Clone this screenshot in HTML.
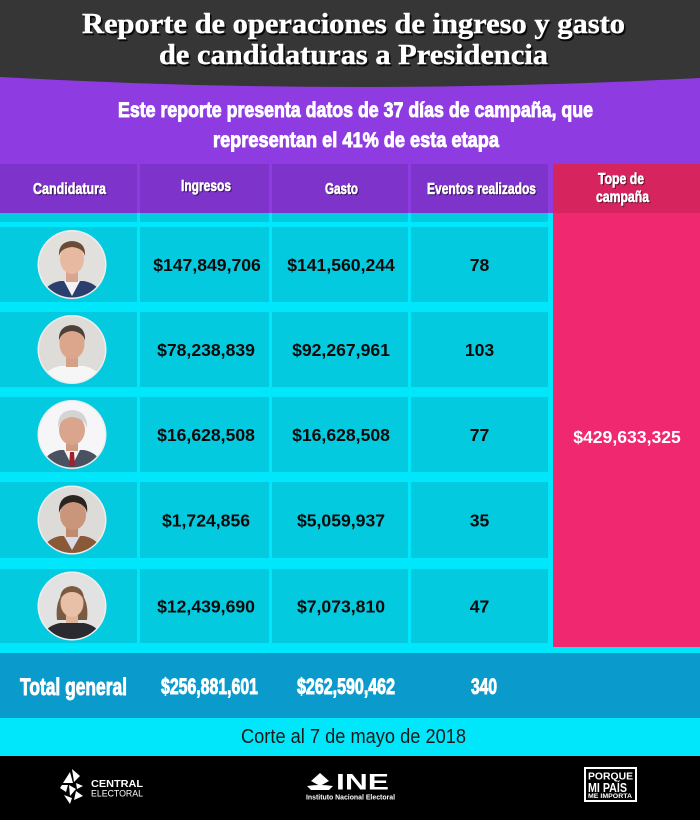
<!DOCTYPE html>
<html>
<head>
<meta charset="utf-8">
<style>
html,body{margin:0;padding:0;background:#000;}
svg{display:block;}
.t{font-family:"Liberation Serif",serif;font-weight:bold;}
.s{font-family:"Liberation Sans",sans-serif;font-weight:bold;}
.r{font-family:"Liberation Sans",sans-serif;font-weight:normal;}
</style>
</head>
<body>
<svg width="700" height="820" viewBox="0 0 700 820" xmlns="http://www.w3.org/2000/svg">
  <defs>
    <clipPath id="c1"><circle cx="72" cy="264.5" r="33"/></clipPath>
    <clipPath id="c2"><circle cx="72" cy="349.5" r="33"/></clipPath>
    <clipPath id="c3"><circle cx="72" cy="434.5" r="33"/></clipPath>
    <clipPath id="c4"><circle cx="72" cy="520" r="33"/></clipPath>
    <clipPath id="c5"><circle cx="72" cy="606" r="33"/></clipPath>
  </defs>

  <!-- purple band -->
  <rect x="0" y="0" width="700" height="213" fill="#8f3be2"/>
  <!-- dark title band -->
  <path d="M0 0 H700 V78 Q350 96.5 0 77 Z" fill="#363636"/>

  <!-- title -->
  <g class="t" font-size="29" text-anchor="start">
    <text x="83.5" y="35" textLength="543" lengthAdjust="spacingAndGlyphs" fill="#0a0a0a" stroke="#0a0a0a" stroke-width="0.6">Reporte de operaciones de ingreso y gasto</text>
    <text x="82" y="33" textLength="543" lengthAdjust="spacingAndGlyphs" fill="#fff" stroke="#fff" stroke-width="0.4">Reporte de operaciones de ingreso y gasto</text>
    <text x="160.5" y="66" textLength="389" lengthAdjust="spacingAndGlyphs" fill="#0a0a0a" stroke="#0a0a0a" stroke-width="0.6">de candidaturas a Presidencia</text>
    <text x="159" y="64" textLength="389" lengthAdjust="spacingAndGlyphs" fill="#fff" stroke="#fff" stroke-width="0.4">de candidaturas a Presidencia</text>
  </g>

  <!-- subtitle -->
  <g class="s" font-size="21.5" fill="#fff" stroke="#fff" stroke-width="0.9">
    <text x="118" y="117" textLength="475" lengthAdjust="spacingAndGlyphs">Este reporte presenta datos de 37 días de campaña, que</text>
    <text x="213" y="147" textLength="286" lengthAdjust="spacingAndGlyphs">representan el 41% de esta etapa</text>
  </g>

  <!-- header cells -->
  <rect x="0" y="164" width="137" height="49" fill="#7e34cb"/>
  <rect x="140" y="164" width="129" height="49" fill="#7e34cb"/>
  <rect x="272" y="164" width="136" height="49" fill="#7e34cb"/>
  <rect x="411" y="164" width="137" height="49" fill="#7e34cb"/>

  <g class="s" font-size="16">
    <g fill="#3a1060" stroke="#3a1060" stroke-width="0.6">
      <text x="34" y="195" textLength="73" lengthAdjust="spacingAndGlyphs">Candidatura</text>
      <text x="182" y="192" textLength="50" lengthAdjust="spacingAndGlyphs">Ingresos</text>
      <text x="326" y="195" textLength="33" lengthAdjust="spacingAndGlyphs">Gasto</text>
      <text x="428" y="195" textLength="109" lengthAdjust="spacingAndGlyphs">Eventos realizados</text>
    </g>
    <g fill="#fff" stroke="#fff" stroke-width="0.6">
      <text x="33" y="194" textLength="73" lengthAdjust="spacingAndGlyphs">Candidatura</text>
      <text x="181" y="191" textLength="50" lengthAdjust="spacingAndGlyphs">Ingresos</text>
      <text x="325" y="194" textLength="33" lengthAdjust="spacingAndGlyphs">Gasto</text>
      <text x="427" y="194" textLength="109" lengthAdjust="spacingAndGlyphs">Eventos realizados</text>
    </g>
  </g>

  <!-- cyan area -->
  <rect x="0" y="213" width="700" height="440" fill="#00e6fa"/>
  <!-- thin row under header -->
  <g fill="#04cadf">
    <rect x="0" y="213" width="137" height="9"/>
    <rect x="140" y="213" width="129" height="9"/>
    <rect x="272" y="213" width="136" height="9"/>
    <rect x="411" y="213" width="137" height="9"/>
  </g>
  <!-- rows -->
  <g fill="#04cadf">
    <rect x="0" y="227" width="137" height="75"/><rect x="140" y="227" width="129" height="75"/><rect x="272" y="227" width="136" height="75"/><rect x="411" y="227" width="137" height="75"/>
    <rect x="0" y="312" width="137" height="75"/><rect x="140" y="312" width="129" height="75"/><rect x="272" y="312" width="136" height="75"/><rect x="411" y="312" width="137" height="75"/>
    <rect x="0" y="397" width="137" height="75"/><rect x="140" y="397" width="129" height="75"/><rect x="272" y="397" width="136" height="75"/><rect x="411" y="397" width="137" height="75"/>
    <rect x="0" y="482" width="137" height="76"/><rect x="140" y="482" width="129" height="76"/><rect x="272" y="482" width="136" height="76"/><rect x="411" y="482" width="137" height="76"/>
    <rect x="0" y="569" width="137" height="74"/><rect x="140" y="569" width="129" height="74"/><rect x="272" y="569" width="136" height="74"/><rect x="411" y="569" width="137" height="74"/>
  </g>

  <!-- pink column -->
  <rect x="553" y="164" width="147" height="49" fill="#d6245f"/>
  <rect x="553" y="213" width="147" height="434" fill="#f0286f"/>
  <g class="s" font-size="16" text-anchor="middle">
    <text x="622" y="185" textLength="46" lengthAdjust="spacingAndGlyphs" fill="#6a0a2a" stroke="#6a0a2a" stroke-width="0.6">Tope de</text>
    <text x="623.5" y="203" textLength="53" lengthAdjust="spacingAndGlyphs" fill="#6a0a2a" stroke="#6a0a2a" stroke-width="0.6">campaña</text>
    <text x="621" y="184" textLength="46" lengthAdjust="spacingAndGlyphs" fill="#fff" stroke="#fff" stroke-width="0.6">Tope de</text>
    <text x="622.5" y="202" textLength="53" lengthAdjust="spacingAndGlyphs" fill="#fff" stroke="#fff" stroke-width="0.6">campaña</text>
  </g>
  <text class="s" x="627" y="443" font-size="17.6" text-anchor="middle" fill="#fff">$429,633,325</text>

  <!-- faces -->
  <g>
    <circle cx="72" cy="264.5" r="34.5" fill="#eeeeee"/>
    <g clip-path="url(#c1)">
      <rect x="38" y="230" width="68" height="70" fill="#e2e0dc"/>
      <path d="M40 300 Q44 284 60 281 L84 281 Q100 284 104 300 Z" fill="#2b3f6e"/>
      <path d="M64 281 L72 296 L80 281 Z" fill="#f4f4f4"/>
      <rect x="66" y="270" width="12" height="12" fill="#d9a58e"/>
      <ellipse cx="72" cy="259" rx="12" ry="15" fill="#e7b9a1"/>
      <path d="M59 256 Q58 242 72 241 Q86 242 85 256 Q83 248 72 247 Q61 248 59 256 Z" fill="#6b4a38"/>
    </g>
    <circle cx="72" cy="349.5" r="34.5" fill="#eeeeee"/>
    <g clip-path="url(#c2)">
      <rect x="38" y="315" width="68" height="70" fill="#dedcd9"/>
      <path d="M40 385 Q44 369 60 366 L84 366 Q100 369 104 385 Z" fill="#f6f6f6"/>
      <rect x="66" y="355" width="12" height="12" fill="#d4a088"/>
      <ellipse cx="72" cy="344" rx="12.5" ry="15" fill="#dca68c"/>
      <path d="M59 341 Q58 326 72 325 Q86 326 85 341 Q83 332 72 331 Q61 332 59 341 Z" fill="#4c4038"/>
    </g>
    <circle cx="72" cy="434.5" r="34.5" fill="#eeeeee"/>
    <g clip-path="url(#c3)">
      <rect x="38" y="400" width="68" height="70" fill="#f6f6f8"/>
      <path d="M40 470 Q44 453 60 450 L84 450 Q100 453 104 470 Z" fill="#4a5262"/>
      <path d="M64 450 L72 466 L80 450 Z" fill="#f4f4f4"/>
      <path d="M70 452 L74 452 L75 466 L69 466 Z" fill="#a02030"/>
      <rect x="66" y="440" width="12" height="11" fill="#cf9a82"/>
      <ellipse cx="72" cy="430" rx="13" ry="15" fill="#d9a58c"/>
      <path d="M58 428 Q57 411 72 410 Q88 411 87 428 Q84 418 72 417 Q61 418 58 428 Z" fill="#d4d4d4"/>
    </g>
    <circle cx="72" cy="520" r="34.5" fill="#eeeeee"/>
    <g clip-path="url(#c4)">
      <rect x="38" y="486" width="68" height="70" fill="#dddbd8"/>
      <path d="M40 556 Q44 539 60 536 L84 536 Q100 539 104 556 Z" fill="#8a5a38"/>
      <path d="M64 536 L72 550 L80 536 Z" fill="#d8dce8"/>
      <rect x="66" y="525" width="12" height="12" fill="#c08a70"/>
      <ellipse cx="73" cy="515" rx="13" ry="15" fill="#c9957b"/>
      <path d="M59 513 Q58 496 73 495 Q89 496 87 513 Q85 503 73 502 Q62 503 59 513 Z" fill="#2a2420"/>
    </g>
    <circle cx="72" cy="606" r="34.5" fill="#eeeeee"/>
    <g clip-path="url(#c5)">
      <rect x="38" y="572" width="68" height="70" fill="#e2e2e2"/>
      <path d="M40 642 Q44 626 60 623 L84 623 Q100 626 104 642 Z" fill="#2a2a30"/>
      <path d="M57 620 Q54 595 72 586 Q90 595 87 620 Z" fill="#7a5a40"/>
      <rect x="66" y="612" width="12" height="11" fill="#dfb39a"/>
      <ellipse cx="72" cy="603" rx="11.5" ry="14" fill="#e8c0a8"/>
      <path d="M60 600 Q60 587 72 586 Q84 587 84 600 Q80 592 72 592 Q64 592 60 600 Z" fill="#7a5a40"/>
    </g>
  </g>

  <!-- values -->
  <g class="s" font-size="17.6" fill="#0a0a0a" text-anchor="middle">
    <text x="207" y="271">$147,849,706</text>
    <text x="341" y="271">$141,560,244</text>
    <text x="479.5" y="271">78</text>

    <text x="206" y="356">$78,238,839</text>
    <text x="341" y="356">$92,267,961</text>
    <text x="479.5" y="356">103</text>

    <text x="206" y="441">$16,628,508</text>
    <text x="341" y="441">$16,628,508</text>
    <text x="479.5" y="441">77</text>

    <text x="206" y="526.5">$1,724,856</text>
    <text x="341" y="526.5">$5,059,937</text>
    <text x="479.5" y="526.5">35</text>

    <text x="206" y="612.5">$12,439,690</text>
    <text x="341" y="612.5">$7,073,810</text>
    <text x="479.5" y="612.5">47</text>
  </g>

  <!-- total row -->
  <rect x="0" y="653" width="700" height="65" fill="#0a9bcc"/>
  <g class="s" fill="#fff" stroke="#fff" stroke-width="0.9">
    <text x="20" y="695" font-size="24" textLength="107" lengthAdjust="spacingAndGlyphs">Total general</text>
    <text x="161" y="694" font-size="22" textLength="97" lengthAdjust="spacingAndGlyphs">$256,881,601</text>
    <text x="297" y="694" font-size="22" textLength="98" lengthAdjust="spacingAndGlyphs">$262,590,462</text>
    <text x="471" y="694" font-size="22" textLength="26" lengthAdjust="spacingAndGlyphs">340</text>
  </g>

  <!-- corte band -->
  <rect x="0" y="718" width="700" height="38" fill="#00e6fb"/>
  <text class="r" x="241" y="743" font-size="20" fill="#1a1a1a" textLength="225" lengthAdjust="spacingAndGlyphs">Corte al 7 de mayo de 2018</text>

  <!-- footer -->
  <rect x="0" y="756" width="700" height="64" fill="#000"/>

  <!-- Central Electoral logo -->
  <g fill="#fff">
    <path d="M72 769 L80 776 L74 782 Z"/>
    <path d="M70 772 L73 783 L63 783 Z"/>
    <path d="M62 785 L68 785 L66 792 L60 788 Z"/>
    <path d="M69 785 L76 789 L70 796 Z"/>
    <path d="M64 795 L72 798 L70 804 Z"/>
    <path d="M76 791 L83 796 L74 800 Z"/>
    <path d="M76 783 L83 786 L77 789 Z"/>
  </g>
  <text class="s" x="91" y="787" font-size="10.5" fill="#fff" textLength="52" lengthAdjust="spacingAndGlyphs">CENTRAL</text>
  <text class="r" x="91" y="796.5" font-size="9" fill="#fff" textLength="52" lengthAdjust="spacingAndGlyphs">ELECTORAL</text>

  <!-- INE logo -->
  <g fill="#fff">
    <path d="M320 773 L329 781 L320 786 L311 781 Z"/>
    <path d="M307 786 Q320 784 333 786 L329 790 L311 790 Z"/>
  </g>
  <text class="s" x="336" y="789.5" font-size="22" fill="#fff" textLength="53" lengthAdjust="spacingAndGlyphs">INE</text>
  <text class="s" x="306" y="799.5" font-size="7" fill="#fff" textLength="89" lengthAdjust="spacingAndGlyphs">Instituto Nacional Electoral</text>

  <!-- Porque mi país -->
  <rect x="585" y="768" width="51" height="33" fill="#000" stroke="#fff" stroke-width="2"/>
  <g class="s" fill="#fff">
    <text x="588" y="779.5" font-size="10" textLength="45" lengthAdjust="spacingAndGlyphs">PORQUE</text>
    <text x="588" y="792" font-size="13" textLength="39" lengthAdjust="spacingAndGlyphs">MI PAÍS</text>
    <text x="588" y="798" font-size="6" textLength="44" lengthAdjust="spacingAndGlyphs">ME IMPORTA</text>
  </g>
</svg>
</body>
</html>
